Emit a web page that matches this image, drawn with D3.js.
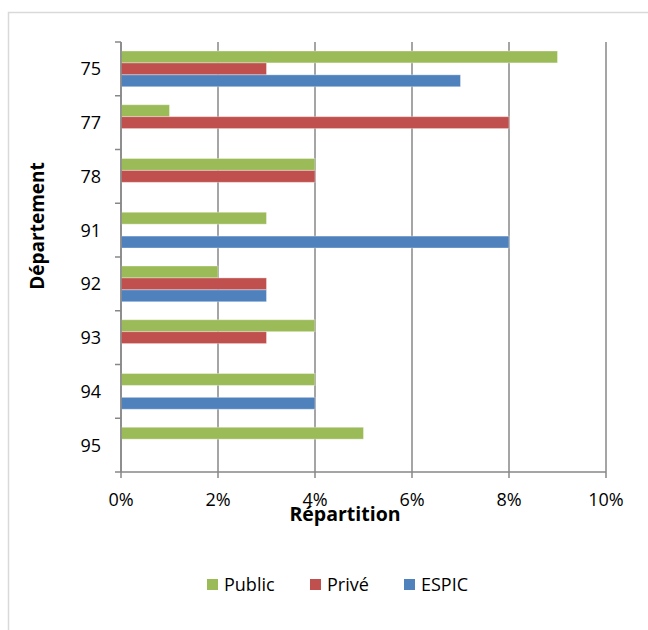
<!DOCTYPE html>
<html>
<head>
<meta charset="utf-8">
<script src="https://cdn.jsdelivr.net/npm/d3@7"></script>
<style>
  html, body { margin: 0; padding: 0; background: #fff; }
  svg { display: block; }
  text { font-family: "Open Sans", "DejaVu Sans", sans-serif; fill: #000; }
</style>
</head>
<body>
<svg id="chart" width="648" height="630"></svg>
<script>
// Départements (top to bottom)
const categories = ["75", "77", "78", "91", "92", "93", "94", "95"];
// Share per sector, in percent
const publicValues = [9, 1, 4, 3, 2, 4, 4, 5];
const priveValues  = [3, 8, 4, 0, 3, 3, 0, 0];
const espicValues  = [7, 0, 0, 8, 3, 0, 4, 0];
const seriesNames  = ["Public", "Privé", "ESPIC"];
const seriesColors = ["#9BBB59", "#C0504D", "#4F81BD"];
const xTicks = [0, 2, 4, 6, 8, 10];

const series = [
  { name: seriesNames[0], color: seriesColors[0], values: publicValues },
  { name: seriesNames[1], color: seriesColors[1], values: priveValues },
  { name: seriesNames[2], color: seriesColors[2], values: espicValues }
];

const svg = d3.select("#chart");
const W = 648, H = 630;

// outer chart frame
svg.append("rect")
  .attr("x", 8.5).attr("y", 12.5)
  .attr("width", W + 10).attr("height", H + 10)
  .attr("fill", "#fff").attr("stroke", "#D9D9D9").attr("stroke-width", 1.5);

const plot = { left: 121, right: 606, top: 42, bottom: 472 };

const x = d3.scaleLinear().domain([0, 10]).range([plot.left, plot.right]);
const y = d3.scaleBand().domain(categories).range([plot.top, plot.bottom]).padding(0);
const inner = d3.scaleBand().domain(seriesNames)
  .range([9, y.bandwidth() - 9]).padding(0);

const gridColor = "#878787";

// vertical gridlines with tick marks below the axis
svg.append("g").selectAll("line")
  .data(xTicks)
  .join("line")
  .attr("x1", d => x(d)).attr("x2", d => x(d))
  .attr("y1", plot.top).attr("y2", plot.bottom + 6)
  .attr("stroke", gridColor).attr("stroke-width", 1.5);

// horizontal axis line
svg.append("line")
  .attr("x1", plot.left).attr("x2", plot.right)
  .attr("y1", plot.bottom).attr("y2", plot.bottom)
  .attr("stroke", gridColor).attr("stroke-width", 1.5);

// x tick labels
svg.append("g").selectAll("text")
  .data(xTicks)
  .join("text")
  .attr("x", d => x(d)).attr("y", 506)
  .attr("text-anchor", "middle")
  .style("font-size", "18px")
  .text(d => d + "%");

// bars
const bars = svg.append("g");
series.forEach(s => {
  bars.selectAll(null)
    .data(categories.map((c, i) => ({ c, v: s.values[i] })).filter(d => d.v > 0))
    .join("rect")
    .attr("x", x(0))
    .attr("y", d => y(d.c) + inner(s.name))
    .attr("width", d => x(d.v) - x(0))
    .attr("height", inner.bandwidth())
    .attr("fill", s.color)
    .attr("stroke", "rgba(255,255,255,0.35)")
    .attr("stroke-width", 1);
});

// vertical axis with ticks at category boundaries
svg.append("line")
  .attr("x1", plot.left).attr("x2", plot.left)
  .attr("y1", plot.top).attr("y2", plot.bottom)
  .attr("stroke", gridColor).attr("stroke-width", 1.5);

const bounds = categories.map(c => y(c)).concat([y.range()[1]]);
svg.append("g").selectAll("line")
  .data(bounds)
  .join("line")
  .attr("x1", plot.left - 6).attr("x2", plot.left)
  .attr("y1", d => d).attr("y2", d => d)
  .attr("stroke", gridColor).attr("stroke-width", 1.5);

// category labels
svg.append("g").selectAll("text")
  .data(categories)
  .join("text")
  .attr("x", 101)
  .attr("y", d => y(d) + y.bandwidth() / 2)
  .attr("dy", "0.36em")
  .attr("text-anchor", "end")
  .style("font-size", "18px")
  .text(d => d);

// axis titles
svg.append("text")
  .attr("x", 345).attr("y", 521)
  .attr("text-anchor", "middle")
  .style("font-size", "19.5px").style("font-weight", "bold")
  .text("Répartition");

svg.append("text")
  .attr("transform", "translate(44,226) rotate(-90)")
  .attr("text-anchor", "middle")
  .style("font-size", "19px").style("font-weight", "bold")
  .text("Département");

// legend
const legendX = [207, 310, 404];
const legend = svg.append("g");
series.forEach((s, i) => {
  legend.append("rect")
    .attr("x", legendX[i]).attr("y", 579)
    .attr("width", 11).attr("height", 11)
    .attr("fill", s.color);
  legend.append("text")
    .attr("x", legendX[i] + 17).attr("y", 591)
    .style("font-size", "18px")
    .text(s.name);
});
</script>
</body>
</html>
